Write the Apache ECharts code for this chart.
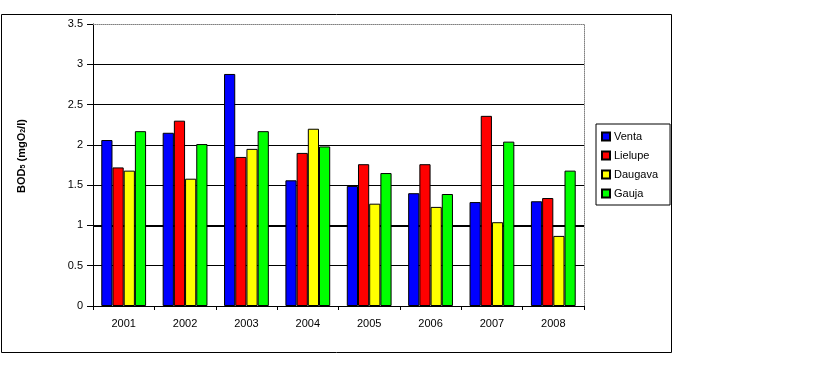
<!DOCTYPE html>
<html>
<head>
<meta charset="utf-8">
<script src="https://cdn.jsdelivr.net/npm/echarts@6/dist/echarts.min.js"></script>
<style>
html,body{margin:0;padding:0;background:#fff;}
#chart{width:833px;height:390px;}
</style>
</head>
<body>
<div id="chart"></div>
<script>
var years = ['2001','2002','2003','2004','2005','2006','2007','2008'];
var seriesNames = ['Venta','Lielupe','Daugava','Gauja'];
var venta   = [2.06, 2.15, 2.88, 1.56, 1.49, 1.40, 1.29, 1.30];
var lielupe = [1.72, 2.30, 1.85, 1.90, 1.76, 1.76, 2.36, 1.34];
var daugava = [1.68, 1.58, 1.95, 2.20, 1.27, 1.23, 1.04, 0.87];
var gauja   = [2.17, 2.01, 2.17, 1.98, 1.65, 1.39, 2.04, 1.68];
var colors = ['#0000FF','#FF0000','#FFFF00','#00FF00'];
var values = [venta, lielupe, daugava, gauja];

var FONT = 'Liberation Sans, Arial, sans-serif';
var chart = echarts.init(document.getElementById('chart'));

var series = seriesNames.map(function(n, i){
  var s = {
    name: n,
    type: 'bar',
    data: values[i],
    barGap: '0%',
    barCategoryGap: '27%',
    itemStyle: {color: colors[i], borderColor: '#000', borderWidth: 1},
    emphasis: {disabled: true},
    animation: false
  };
  if (i === 0) {
    s.markLine = {
      silent: true, symbol: 'none', z: 1, animation: false,
      label: {show: false},
      lineStyle: {color: '#000', width: 2, type: 'solid'},
      data: [{yAxis: 1}]
    };
  }
  return s;
});

chart.setOption({
  animation: false,
  backgroundColor: '#fff',
  textStyle: {fontFamily: FONT},
  grid: {left: 93, top: 24, width: 491, height: 282, containLabel: false},
  graphic: [{
    type: 'rect', silent: true, z: -1,
    shape: {x: 1.5, y: 14.5, width: 670, height: 338},
    style: {fill: 'none', stroke: '#000', lineWidth: 1}
  }],
  legend: {
    orient: 'vertical',
    left: 596, top: 124,
    padding: [7, 12, 6, 5],
    itemGap: 8,
    itemWidth: 8, itemHeight: 8,
    icon: 'rect',
    borderColor: '#000', borderWidth: 1,
    selectedMode: false,
    textStyle: {fontFamily: FONT, fontSize: 11, color: '#000', padding: [0,0,0,-1]},
    data: seriesNames
  },
  xAxis: [{
    type: 'category',
    data: years,
    position: 'bottom',
    axisLine: {lineStyle: {color: '#000', width: 1}},
    axisTick: {show: true, length: 4, lineStyle: {color: '#000'}},
    axisLabel: {fontFamily: FONT, fontSize: 11, color: '#000', margin: 12},
    splitLine: {show: false}
  }, {
    type: 'value', position: 'top', min: 0, max: 1,
    axisLine: {show: true, onZero: false, lineStyle: {color: '#808080', type: 'dotted', width: 1}},
    axisTick: {show: false}, axisLabel: {show: false}, splitLine: {show: false}
  }],
  yAxis: [{
    type: 'value',
    min: 0, max: 3.5, interval: 0.5,
    axisLine: {show: true, lineStyle: {color: '#000', width: 1}},
    axisTick: {show: true, length: 6, lineStyle: {color: '#000'}},
    axisLabel: {fontFamily: FONT, fontSize: 11, color: '#000', margin: 10},
    splitLine: {show: true, showMaxLine: false, showMinLine: false, lineStyle: {color: '#000', width: 1}},
    name: '{b|BOD}{s|5}{b| (mgO}{s|2}{b|/l)}',
    nameLocation: 'middle',
    nameGap: 66,
    nameTextStyle: {
      fontFamily: FONT, fontSize: 11, fontWeight: 'bold', color: '#000',
      padding: [0, 0, 0, 18],
      rich: {
        b: {fontFamily: FONT, fontSize: 11, fontWeight: 'bold', color: '#000'},
        s: {fontFamily: FONT, fontSize: 7, fontWeight: 'bold', color: '#000', verticalAlign: 'bottom'}
      }
    }
  }, {
    type: 'value', position: 'right', min: 0, max: 1,
    axisLine: {show: true, onZero: false, lineStyle: {color: '#808080', type: 'dotted', width: 1}},
    axisTick: {show: false}, axisLabel: {show: false}, splitLine: {show: false}
  }],
  series: series
});
</script>
</body>
</html>
